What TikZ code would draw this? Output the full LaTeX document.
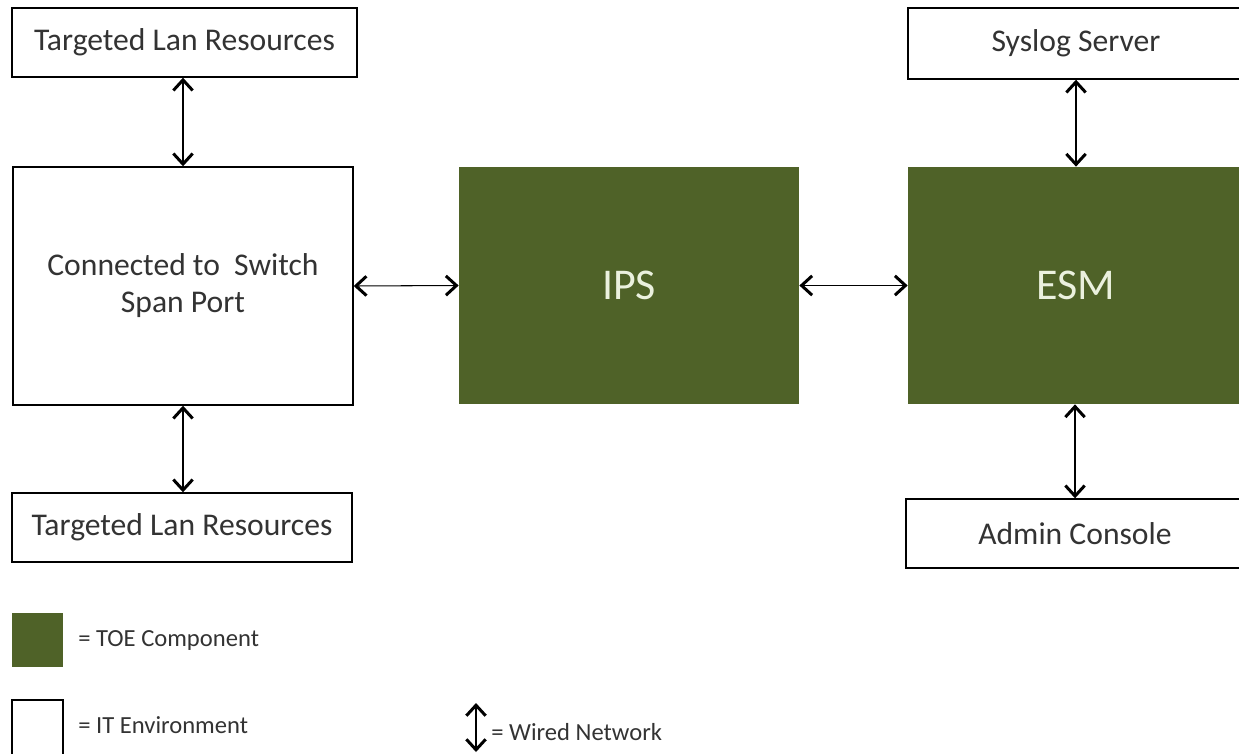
\documentclass[tikz,border=0pt]{standalone}
\usepackage{fontspec}
\setmainfont{Carlito}
\usetikzlibrary{arrows.meta,positioning}
\definecolor{toegreen}{HTML}{4F6228}
\definecolor{toetext}{HTML}{EBF1DE}
\tikzset{
  envbox/.style={draw, thick, fill=white, text=black!80, font=\fontsize{18}{21}\selectfont, align=center, inner sep=0pt},
  toebox/.style={fill=toegreen, text=toetext, font=\fontsize{25}{29}\selectfont, inner sep=0pt},
  wire/.style={<->, >={Straight Barb[length=6pt, width=11pt, line width=1.7pt]}, semithick},
  legendtext/.style={anchor=west, font=\fontsize{14}{16}\selectfont, text=black!80, inner sep=0pt}
}
\begin{document}
\begin{tikzpicture}[x=0.02cm, y=-0.02cm]
  \useasboundingbox (0,0) rectangle (1239,753);
  % IT environment boxes
  \node[envbox, minimum width=345*0.02cm, minimum height=69*0.02cm] (lanup) at (184.5,42.5) {Targeted Lan Resources};
  \node[envbox, minimum width=340*0.02cm, minimum height=238*0.02cm] (switch) at (183,286) {Connected to\ \ Switch\\Span Port};
  \node[envbox, minimum width=340*0.02cm, minimum height=69*0.02cm] (landown) at (182,527.5) {Targeted Lan Resources};
  \node[envbox, minimum width=336*0.02cm, minimum height=71*0.02cm] (syslog) at (1076,43.5) {Syslog Server};
  \node[envbox, minimum width=338*0.02cm, minimum height=69*0.02cm] (admin) at (1075,533.5) {Admin Console};
  % TOE components
  \node[toebox, minimum width=340*0.02cm, minimum height=237*0.02cm] (ips) at (629,285.5) {IPS};
  \node[toebox, minimum width=336*0.02cm, minimum height=237*0.02cm] (esm) at (1076,285.5) {ESM};
  % wired network
  \path[wire] (lanup.south -| switch.north) edge (switch.north);
  \path[wire] (switch.south) edge (switch.south |- landown.north);
  \path[wire] (switch.east) edge (ips.west);
  \path[wire] (ips.east) edge (esm.west);
  \path[wire] (syslog.south) edge (syslog.south |- esm.north);
  \path[wire] (admin.north |- esm.south) edge (admin.north);
  % legend
  \node[fill=toegreen, minimum width=51*0.02cm, minimum height=54*0.02cm, inner sep=0pt] (keytoe) at (37.5,640) {};
  \node[legendtext] (keytoetext) at (78,640) {= TOE Component};
  \node[draw, semithick, minimum width=51*0.02cm, minimum height=56*0.02cm, inner sep=0pt] (keyenv) at (37.5,728) {};
  \node[legendtext] (keyenvtext) at (78,725) {= IT Environment};
  \coordinate (keywiretop) at (476,703);
  \coordinate (keywirebot) at (476,752);
  \path[wire, line width=1.5pt] (keywiretop) edge (keywirebot);
  \node[legendtext] (keywiretext) at (491,732) {= Wired Network};
\end{tikzpicture}
\end{document}
